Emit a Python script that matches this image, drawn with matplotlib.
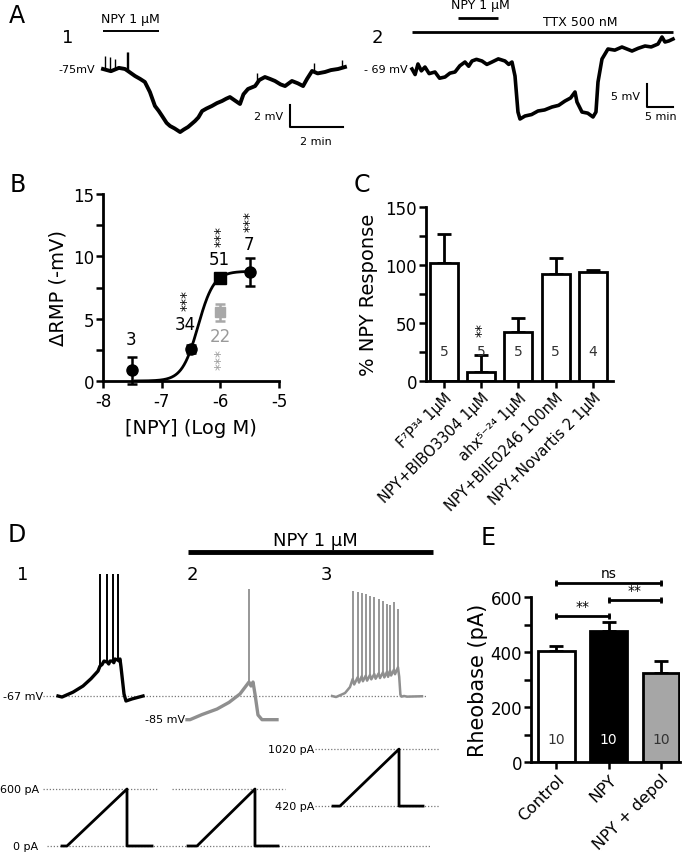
import numpy as np
import matplotlib
matplotlib.use('Agg')
import matplotlib.pyplot as plt
from matplotlib.ticker import MultipleLocator

plt.rcParams['font.family'] = ['DejaVu Sans']
plt.rcParams['axes.unicode_minus'] = False

# ---------------- data ----------------
# A1: NPY 1 uM, time (min) vs membrane potential (mV)
a1_t = [0, 0.3, 0.6, 0.83, 0.94, 1.21, 1.4, 1.58, 1.77, 1.96, 2.1, 2.23, 2.4, 2.53, 2.7, 2.91,
        3.05, 3.21, 3.47, 3.6, 3.74, 3.9, 4.11, 4.3, 4.49, 4.65, 4.79, 5.0, 5.17, 5.3, 5.47,
        5.74, 5.9, 6.11, 6.3, 6.49, 6.7, 6.87, 7.13, 7.35, 7.55, 7.7, 7.89, 8.1, 8.38, 8.6,
        8.87, 9.13]
a1_v = [-75.0, -75.2, -74.9, -75.0, -75.18, -75.64, -75.9, -76.18, -77.09, -78.36, -78.8,
        -79.27, -79.9, -80.18, -80.4, -80.73, -80.5, -80.27, -79.73, -79.4, -78.82, -78.6,
        -78.36, -78.1, -77.91, -77.7, -77.55, -77.9, -78.18, -77.3, -76.82, -76.55, -76.0,
        -75.73, -75.9, -76.09, -76.4, -76.55, -76.09, -76.3, -76.55, -75.9, -75.18, -75.4,
        -75.27, -75.1, -75.0, -74.82]
a1_trans_t = [0.075, 0.26, 0.45, 0.9, 0.94, 5.8, 7.95, 9.0]
a1_trans_v = [-73.8, -73.9, -74.1, -73.5, -73.5, -75.4, -74.5, -74.2]
a1_trans_base = [-75.0, -75.1, -75.0, -75.0, -75.1, -76.4, -75.3, -74.9]
a1_npy = (0.0, 2.11)

# A2: NPY 1 uM in TTX 500 nM
a2_t = [0, 0.6, 1.15, 1.8, 2.5, 3.3, 4.42, 5.3, 6.35, 7.3, 8.27, 9.2, 10.19, 10.9, 11.54, 12.4,
        13.46, 14.4, 15.38, 16.6, 17.88, 18.6, 19.23, 19.81, 20.38, 20.77, 21.73, 23.0, 24.23,
        25.5, 26.92, 28.2, 29.42, 30.5, 31.35, 31.73, 32.69, 33.8, 34.81, 35.38, 35.77, 36.54,
        37.69, 39.0, 40.38, 42.31, 43.5, 44.81, 46.0, 47.31, 48.08, 48.65, 49.4, 50.19]
a2_v = [-69.0, -70.2, -67.91, -69.4, -68.57, -70.0, -69.65, -71.0, -70.74, -69.9, -69.65,
        -68.3, -67.48, -68.4, -67.26, -66.9, -67.26, -68.0, -67.48, -66.8, -67.26, -68.0,
        -67.48, -70.52, -78.35, -79.87, -79.22, -78.9, -78.13, -77.9, -77.26, -76.9, -75.96,
        -75.3, -74.0, -76.17, -78.35, -78.6, -79.43, -78.35, -71.83, -66.83, -64.65, -64.9,
        -64.22, -65.09, -64.5, -64.0, -64.2, -63.57, -62.04, -63.13, -62.9, -62.48]
a2_npy = (8.85, 16.54)
a2_ttx = (0.0, 50.19)

# B: concentration-response
b_conc = [-7.5, -6.5, -5.5]
b_resp = [0.85, 2.55, 8.75]
b_err = [1.1, 0.3, 1.15]
b_sq_conc = [-6.0]
b_sq_resp = [8.3]
b_sq_err = [0.25]
b_gray_conc = [-6.0]
b_gray_resp = [5.5]
b_gray_err = [0.7]
b_n = ['3', '34', '51', '7']
b_fit_top, b_fit_logec50, b_fit_hill = 8.8, -6.38, 3.2

# C: % NPY response
c_labels = ['F⁷P³⁴ 1µM', 'NPY+BIBO3304 1µM', 'ahx⁵⁻²⁴ 1µM', 'NPY+BIIE0246 100nM',
            'NPY+Novartis 2 1µM']
c_vals = [102, 8, 42, 92, 94]
c_err = [25, 14, 12, 14, 2]
c_n = ['5', '5', '5', '5', '4']

# D: ramp responses
v1_t = [0, 0.067, 0.25, 0.417, 0.55, 0.667, 0.70, 0.733, 0.767, 0.822, 0.845, 0.867, 0.911,
        0.93, 0.95, 0.995, 1.015, 1.033, 1.05, 1.10, 1.133, 1.233, 1.417]
v1_v = [-67, -67.8, -64, -59.2, -53.5, -47.5, -43.6, -42.5, -39.7, -40.5, -42, -39.7, -39.7,
        -41, -38.1, -38.9, -39.5, -38.1, -44.3, -65.4, -70.9, -69.3, -67]
sp1_t = [0.70, 0.822, 0.911, 0.995]
sp1_on = [-43.6, -40.5, -39.7, -38.9]
sp1_pk = [28.3, 28.3, 28.3, 28.3]

v2_t = [0, 0.05, 0.25, 0.5, 0.7, 0.883, 1.033, 1.067, 1.1, 1.133, 1.183, 1.25, 1.5]
v2_v = [-85.5, -85.5, -81.5, -77.2, -72, -65.4, -56.1, -59.2, -56.1, -65.4, -81.8, -85.5, -85.5]
sp2_t = [1.033]
sp2_on = [-56.1]
sp2_pk = [16.6]

v3_t = [0, 0.067, 0.217, 0.30, 0.345, 0.37, 0.428, 0.45, 0.495, 0.515, 0.562, 0.585, 0.633,
        0.655, 0.705, 0.727, 0.778, 0.80, 0.85, 0.872, 0.917, 0.935, 0.967, 0.985, 1.033, 1.05,
        1.1, 1.12, 1.14, 1.16, 1.2, 1.25, 1.5]
v3_v = [-67, -67.8, -64.7, -60, -53.7, -58, -52.4, -56.5, -51.6, -55.5, -51.1, -55, -50.6,
        -54, -49.8, -53.5, -49.3, -53, -48.5, -52.5, -48, -52, -47.2, -51, -46.4, -50, -44.6,
        -52, -66, -67.5, -67, -67.5, -67.2]
sp3_t = [0.345, 0.428, 0.495, 0.562, 0.633, 0.705, 0.778, 0.85, 0.917, 0.967, 1.033, 1.1]
sp3_on = [-53.7, -52.4, -51.6, -51.1, -50.6, -49.8, -49.3, -48.5, -48.0, -47.2, -46.4, -44.6]
sp3_pk = [15.3, 14.5, 13.5, 12.7, 11.4, 10.2, 8.9, 7.6, 5.0, 4.3, 6.8, 0.7]

i1_t = [0.067, 0.15, 1.15, 1.15, 1.567]
i1_I = [0, 0, 600, 0, 0]
i2_t = [0.017, 0.167, 1.133, 1.133, 1.517]
i2_I = [0, 0, 600, 0, 0]
i3_t = [0.017, 0.133, 1.117, 1.117, 1.517]
i3_I = [420, 420, 1020, 420, 420]

# E: rheobase
e_labels = ['Control', 'NPY', 'NPY + depol']
e_vals = [404, 476, 325]
e_err = [18, 33, 42]
e_n = ['10', '10', '10']
e_brackets = [(0, 1, 531, '**'), (1, 2, 589, '**'), (0, 2, 651, 'ns')]

# ---------------- layout ----------------
W, H = 688, 853
fig = plt.figure(figsize=(W / 100, H / 100), dpi=100)


def px_axes(L, T, R, B):
    return fig.add_axes([L / W, 1 - B / H, (R - L) / W, (B - T) / H])


def panel_label(x, y, s):
    fig.text(x / W, 1 - y / H, s, fontsize=17, ha='center', va='center')


panel_label(17, 16, 'A')
panel_label(18, 185, 'B')
panel_label(362, 185, 'C')
panel_label(17, 535, 'D')
panel_label(488, 538, 'E')

small = 8

# ---- A1 ----
ax = px_axes(40, 0, 352, 150)
ax.set_xlim(-2.377, 9.396)
ax.set_ylim(-82.27, -68.64)
ax.axis('off')
ax.plot(a1_t, a1_v, color='black', lw=2.8, solid_joinstyle='round')
ax.vlines(a1_trans_t, a1_trans_base, a1_trans_v, color='black', lw=1.0)
ax.hlines(-71.55, *a1_npy, color='black', lw=1.4)
ax.text(1.02, -70.45, 'NPY 1 µM', fontsize=9, ha='center', va='center')
ax.text(-1.32, -72.1, '1', fontsize=13, ha='center', va='center')
ax.text(-0.3, -75.0, '-75mV', fontsize=small, ha='right', va='center')
ax.plot([7.06, 7.06, 9.06], [-78.27, -80.27, -80.27], color='black', lw=1.5)
ax.text(6.79, -79.27, '2 mV', fontsize=small, ha='right', va='center')
ax.text(8.04, -81.55, '2 min', fontsize=small, ha='center', va='center')

# ---- A2 ----
ax = px_axes(355, 0, 688, 150)
ax.set_xlim(-10.96, 53.08)
ax.set_ylim(-86.39, -53.78)
ax.axis('off')
ax.plot(a2_t, a2_v, color='black', lw=2.6, solid_joinstyle='round')
ax.hlines(-60.96, *a2_ttx, color='black', lw=2.0)
ax.hlines(-57.91, *a2_npy, color='black', lw=2.0)
ax.text(32.3, -58.57, 'TTX 500 nM', fontsize=9, ha='center', va='center')
ax.text(13.08, -54.87, 'NPY 1 µM', fontsize=9, ha='center', va='center')
ax.text(-6.73, -62.04, '2', fontsize=13, ha='center', va='center')
ax.text(-0.77, -69.0, '- 69 mV', fontsize=small, ha='right', va='center')
ax.plot([45.19, 45.19, 50.19], [-72.26, -77.26, -77.26], color='black', lw=1.5)
ax.text(43.85, -74.87, '5 mV', fontsize=small, ha='right', va='center')
ax.text(47.9, -79.2, '5 min', fontsize=small, ha='center', va='center')


def style_axes(ax):
    for s in ['top', 'right']:
        ax.spines[s].set_visible(False)
    for s in ['left', 'bottom']:
        ax.spines[s].set_linewidth(2.0)
    ax.tick_params(which='both', direction='out', width=1.8, labelsize=12, pad=1.5)
    ax.tick_params(which='major', length=5)
    ax.tick_params(which='minor', length=5)


# ---- B ----
ax = px_axes(103, 195, 279, 382)
style_axes(ax)
ax.set_xlim(-8, -5)
ax.set_ylim(0, 15)
ax.set_xticks([-8, -7, -6, -5])
ax.set_yticks([0, 5, 10, 15])
ax.yaxis.set_minor_locator(MultipleLocator(2.5))
ax.tick_params(axis='x', pad=3)
xf = np.linspace(-7.45, -5.5, 200)
ax.plot(xf, b_fit_top / (1 + 10 ** ((b_fit_logec50 - xf) * b_fit_hill)), color='black', lw=2)
ax.errorbar(b_conc, b_resp, yerr=b_err, fmt='o', color='black', ms=8, capsize=3.5,
            elinewidth=1.8, capthick=1.8, clip_on=False)
ax.errorbar(b_sq_conc, b_sq_resp, yerr=b_sq_err, fmt='s', color='black', ms=8, capsize=3.5,
            elinewidth=1.8, capthick=1.8)
ax.errorbar(b_gray_conc, b_gray_resp, yerr=b_gray_err, fmt='s', color='#a8a8a8', ms=7,
            capsize=3.5, elinewidth=1.8, capthick=1.8)
ax.text(-7.53, 3.4, b_n[0], fontsize=12, ha='center', va='center')
ax.text(-6.6, 4.6, b_n[1], fontsize=12, ha='center', va='center')
ax.text(-6.02, 9.8, b_n[2], fontsize=12, ha='center', va='center')
ax.text(-5.52, 11.0, b_n[3], fontsize=12, ha='center', va='center')
ax.text(-6.0, 3.6, '22', fontsize=12, ha='center', va='center', color='#9a9a9a')
for (sx, sy, col) in [(-6.58, 6.5, 'black'), (-6.0, 11.7, 'black'), (-5.5, 12.9, 'black'),
                      (-6.0, 1.8, '#9a9a9a')]:
    ax.text(sx, sy, '***', fontsize=10, rotation=90, ha='center', va='center', color=col)
ax.set_ylabel('ΔRMP (-mV)', fontsize=14, labelpad=4)
ax.set_xlabel('[NPY] (Log M)', fontsize=14, labelpad=6)

# ---- C ----
ax = px_axes(426, 208, 613, 382)
style_axes(ax)
xc = np.arange(len(c_vals))
ax.bar(xc, c_vals, width=0.75, color='white', edgecolor='black', linewidth=2.0, zorder=2)
ax.errorbar(xc, c_vals, yerr=[np.zeros(len(c_err)), c_err], fmt='none', ecolor='black',
            elinewidth=2.0, capsize=5, capthick=2.0, zorder=1)
ax.set_xlim(-0.483, 4.54)
ax.set_ylim(0, 150)
ax.set_yticks([0, 50, 100, 150])
ax.yaxis.set_minor_locator(MultipleLocator(25))
ax.set_xticks(xc)
ax.set_xticklabels(c_labels, rotation=45, ha='right', rotation_mode='anchor', fontsize=10.5)
for xi, n in zip(xc, c_n):
    ax.text(xi, 26, n, fontsize=10, ha='center', va='center', color='#333333', zorder=3)
ax.text(1, 45, '**', fontsize=10, rotation=90, ha='center', va='center', zorder=3)
ax.set_ylabel('% NPY Response', fontsize=14, labelpad=5)

# ---- D ----
axv = px_axes(0, 530, 445, 735)
axv.set_xlim(0, 445 / 60)
axv.set_ylim(-96.69, 63.47)
axv.axis('off')
axi = px_axes(0, 735, 445, 853)
axi.set_xlim(0, 445 / 60)
axi.set_ylim(-63.2, 1178.9)
axi.axis('off')

off = [58 / 60, 187 / 60, 332 / 60]
dot = dict(color='#777777', lw=0.9, linestyle=(0, (1, 1.5)))
axv.hlines(-67, 43 / 60, 427 / 60, **dot)
axi.hlines(600, 43 / 60, 157 / 60, **dot)
axi.hlines(600, 172 / 60, 285 / 60, **dot)
axi.hlines(0, 47 / 60, 430 / 60, **dot)
axi.hlines([1020, 420], 315 / 60, 440 / 60, **dot)

gray = '#8f8f8f'
axv.plot(np.array(v1_t) + off[0], v1_v, color='black', lw=2.4)
axv.vlines(np.array(sp1_t) + off[0], sp1_on, sp1_pk, color='black', lw=1.4)
axv.plot(np.array(v2_t) + off[1], v2_v, color=gray, lw=2.4)
axv.vlines(np.array(sp2_t) + off[1], sp2_on, sp2_pk, color=gray, lw=1.3)
axv.plot(np.array(v3_t) + off[2], v3_v, color=gray, lw=1.8)
axv.vlines(np.array(sp3_t) + off[2], sp3_on, sp3_pk, color=gray, lw=1.3)

axi.plot(np.array(i1_t) + off[0], i1_I, color='black', lw=2.0)
axi.plot(np.array(i2_t) + off[1], i2_I, color='black', lw=2.0)
axi.plot(np.array(i3_t) + off[2], i3_I, color='black', lw=2.0)

axv.text(43 / 60, -67, '-67 mV', fontsize=small, ha='right', va='center')
axv.text(185 / 60, -85, '-85 mV', fontsize=small, ha='right', va='center')
axi.text(39 / 60, 600, '600 pA', fontsize=small, ha='right', va='center')
axi.text(38 / 60, 0, '0 pA', fontsize=small, ha='right', va='center')
axi.text(314 / 60, 1020, '1020 pA', fontsize=small, ha='right', va='center')
axi.text(314 / 60, 420, '420 pA', fontsize=small, ha='right', va='center')
for xp, s in [(23, '1'), (192, '2'), (326, '3')]:
    axv.text(xp / 60, 28.3, s, fontsize=13, ha='center', va='center')
axv.hlines(45.5, 188 / 60, 433 / 60, color='black', lw=3.5)
axv.text(315 / 60, 54.5, 'NPY 1 µM', fontsize=13, ha='center', va='center')

# ---- E ----
ax = px_axes(531, 598, 680, 763)
style_axes(ax)
xe = np.arange(len(e_vals))
ax.bar(xe, e_vals, width=0.7, color=['white', 'black', '#a6a6a6'], edgecolor='black',
       linewidth=2.0, zorder=2)
ax.errorbar(xe, e_vals, yerr=[np.zeros(len(e_err)), e_err], fmt='none', ecolor='black',
            elinewidth=2.0, capsize=5, capthick=2.0, zorder=1)
ax.set_xlim(-0.48, 2.36)
ax.set_ylim(0, 600)
ax.set_yticks([0, 200, 400, 600])
ax.yaxis.set_minor_locator(MultipleLocator(100))
ax.set_xticks(xe)
ax.set_xticklabels(e_labels, rotation=45, ha='right', rotation_mode='anchor', fontsize=11.5)
for xi, n, c in zip(xe, e_n, ['#333333', 'white', '#333333']):
    ax.text(xi, 85, n, fontsize=10, ha='center', va='center', color=c, zorder=3)
for x0, x1, yb, s in e_brackets:
    ax.plot([x0, x1], [yb, yb], color='black', lw=2.0, clip_on=False)
    ax.vlines([x0, x1], yb - 12, yb + 12, color='black', lw=2.0, clip_on=False)
    ax.text((x0 + x1) / 2, yb + 10, s, fontsize=10, ha='center', va='bottom', clip_on=False)
ax.set_ylabel('Rheobase (pA)', fontsize=15, labelpad=2)

fig.savefig('out.png', dpi=100)
